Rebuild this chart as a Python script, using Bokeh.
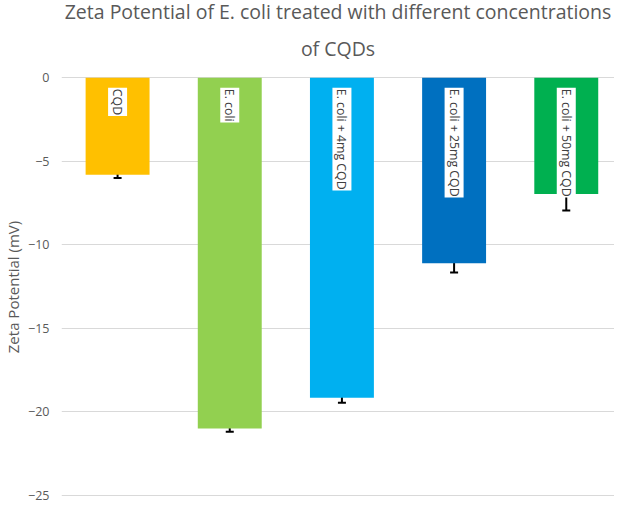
import math
from bokeh.plotting import figure
from bokeh.models import ColumnDataSource, Whisker, TeeHead, Title, FixedTicker, Range1d
from bokeh.core.properties import value
from bokeh.embed import file_html
from bokeh.resources import INLINE

categories = ["CQD", "E. coli", "E. coli + 4mg CQD", "E. coli + 25mg CQD", "E. coli + 50mg CQD"]
zeta = [-5.8, -21.0, -19.15, -11.1, -6.95]
errors = [0.2, 0.2, 0.3, 0.55, 1.0]
colors = ["#FFC000", "#92D050", "#00B0F0", "#0070C0", "#00B050"]
y_ticks = [0, -5, -10, -15, -20, -25]
title_lines = ["Zeta Potential of E. coli treated with different concentrations", "of CQDs"]
y_label = "Zeta Potential (mV)"

FONT = "Open Sans"
GREY = "#595959"

xs = list(range(len(categories)))
src = ColumnDataSource(dict(
    x=xs, cat=categories, val=zeta, color=colors,
    upper=[v + e for v, e in zip(zeta, errors)],
    lower=[v - e for v, e in zip(zeta, errors)],
    label_y=[-0.6] * len(categories),
))

p = figure(x_range=Range1d(-0.5, 4.43), y_range=Range1d(-25.25, 0.2),
           width=614, height=503, x_axis_location=None,
           min_border_left=55, min_border_right=0, min_border_top=64, min_border_bottom=4,
           output_backend="svg", toolbar_location=None)

p.add_layout(Title(text=title_lines[1], align="center", text_font=FONT, text_font_size="19.5px",
                   text_font_style="normal", text_color=GREY, standoff=25), "above")
p.add_layout(Title(text=title_lines[0], align="center", text_font=FONT, text_font_size="19.5px",
                   text_font_style="normal", text_color=GREY, standoff=-9), "above")

p.vbar(x="x", top=0, bottom="val", width=0.57, fill_color="color", line_color=None, source=src)

w = Whisker(base="x", upper="upper", lower="lower", source=src,
            line_color="black", line_width=2,
            upper_head=TeeHead(size=8, line_color="black", line_width=2),
            lower_head=TeeHead(size=8, line_color="black", line_width=2))
p.add_layout(w)

p.text(x="x", y="label_y", text="cat", angle=-math.pi / 2,
       text_font=value(FONT), text_font_size="12.3px", text_color="#404040",
       text_align="left", text_baseline="middle",
       background_fill_color="white", padding=1, source=src)

p.xgrid.visible = False
p.ygrid.grid_line_color = "#D9D9D9"
p.ygrid.grid_line_width = 1
p.yaxis.ticker = FixedTicker(ticks=y_ticks)
p.yaxis.axis_line_color = None
p.yaxis.major_tick_line_color = None
p.yaxis.minor_tick_line_color = None
p.yaxis.major_tick_out = 0
p.yaxis.major_tick_in = 0
p.yaxis.major_label_text_font = FONT
p.yaxis.major_label_text_font_size = "12.5px"
p.yaxis.major_label_text_color = GREY
p.yaxis.major_label_standoff = 12
p.yaxis.axis_label = y_label
p.yaxis.axis_label_text_font = FONT
p.yaxis.axis_label_text_font_size = "15px"
p.yaxis.axis_label_text_font_style = "normal"
p.yaxis.axis_label_text_color = GREY
p.yaxis.axis_label_standoff = 2
p.outline_line_color = None

open("out.html", "w").write(file_html(p, INLINE))
